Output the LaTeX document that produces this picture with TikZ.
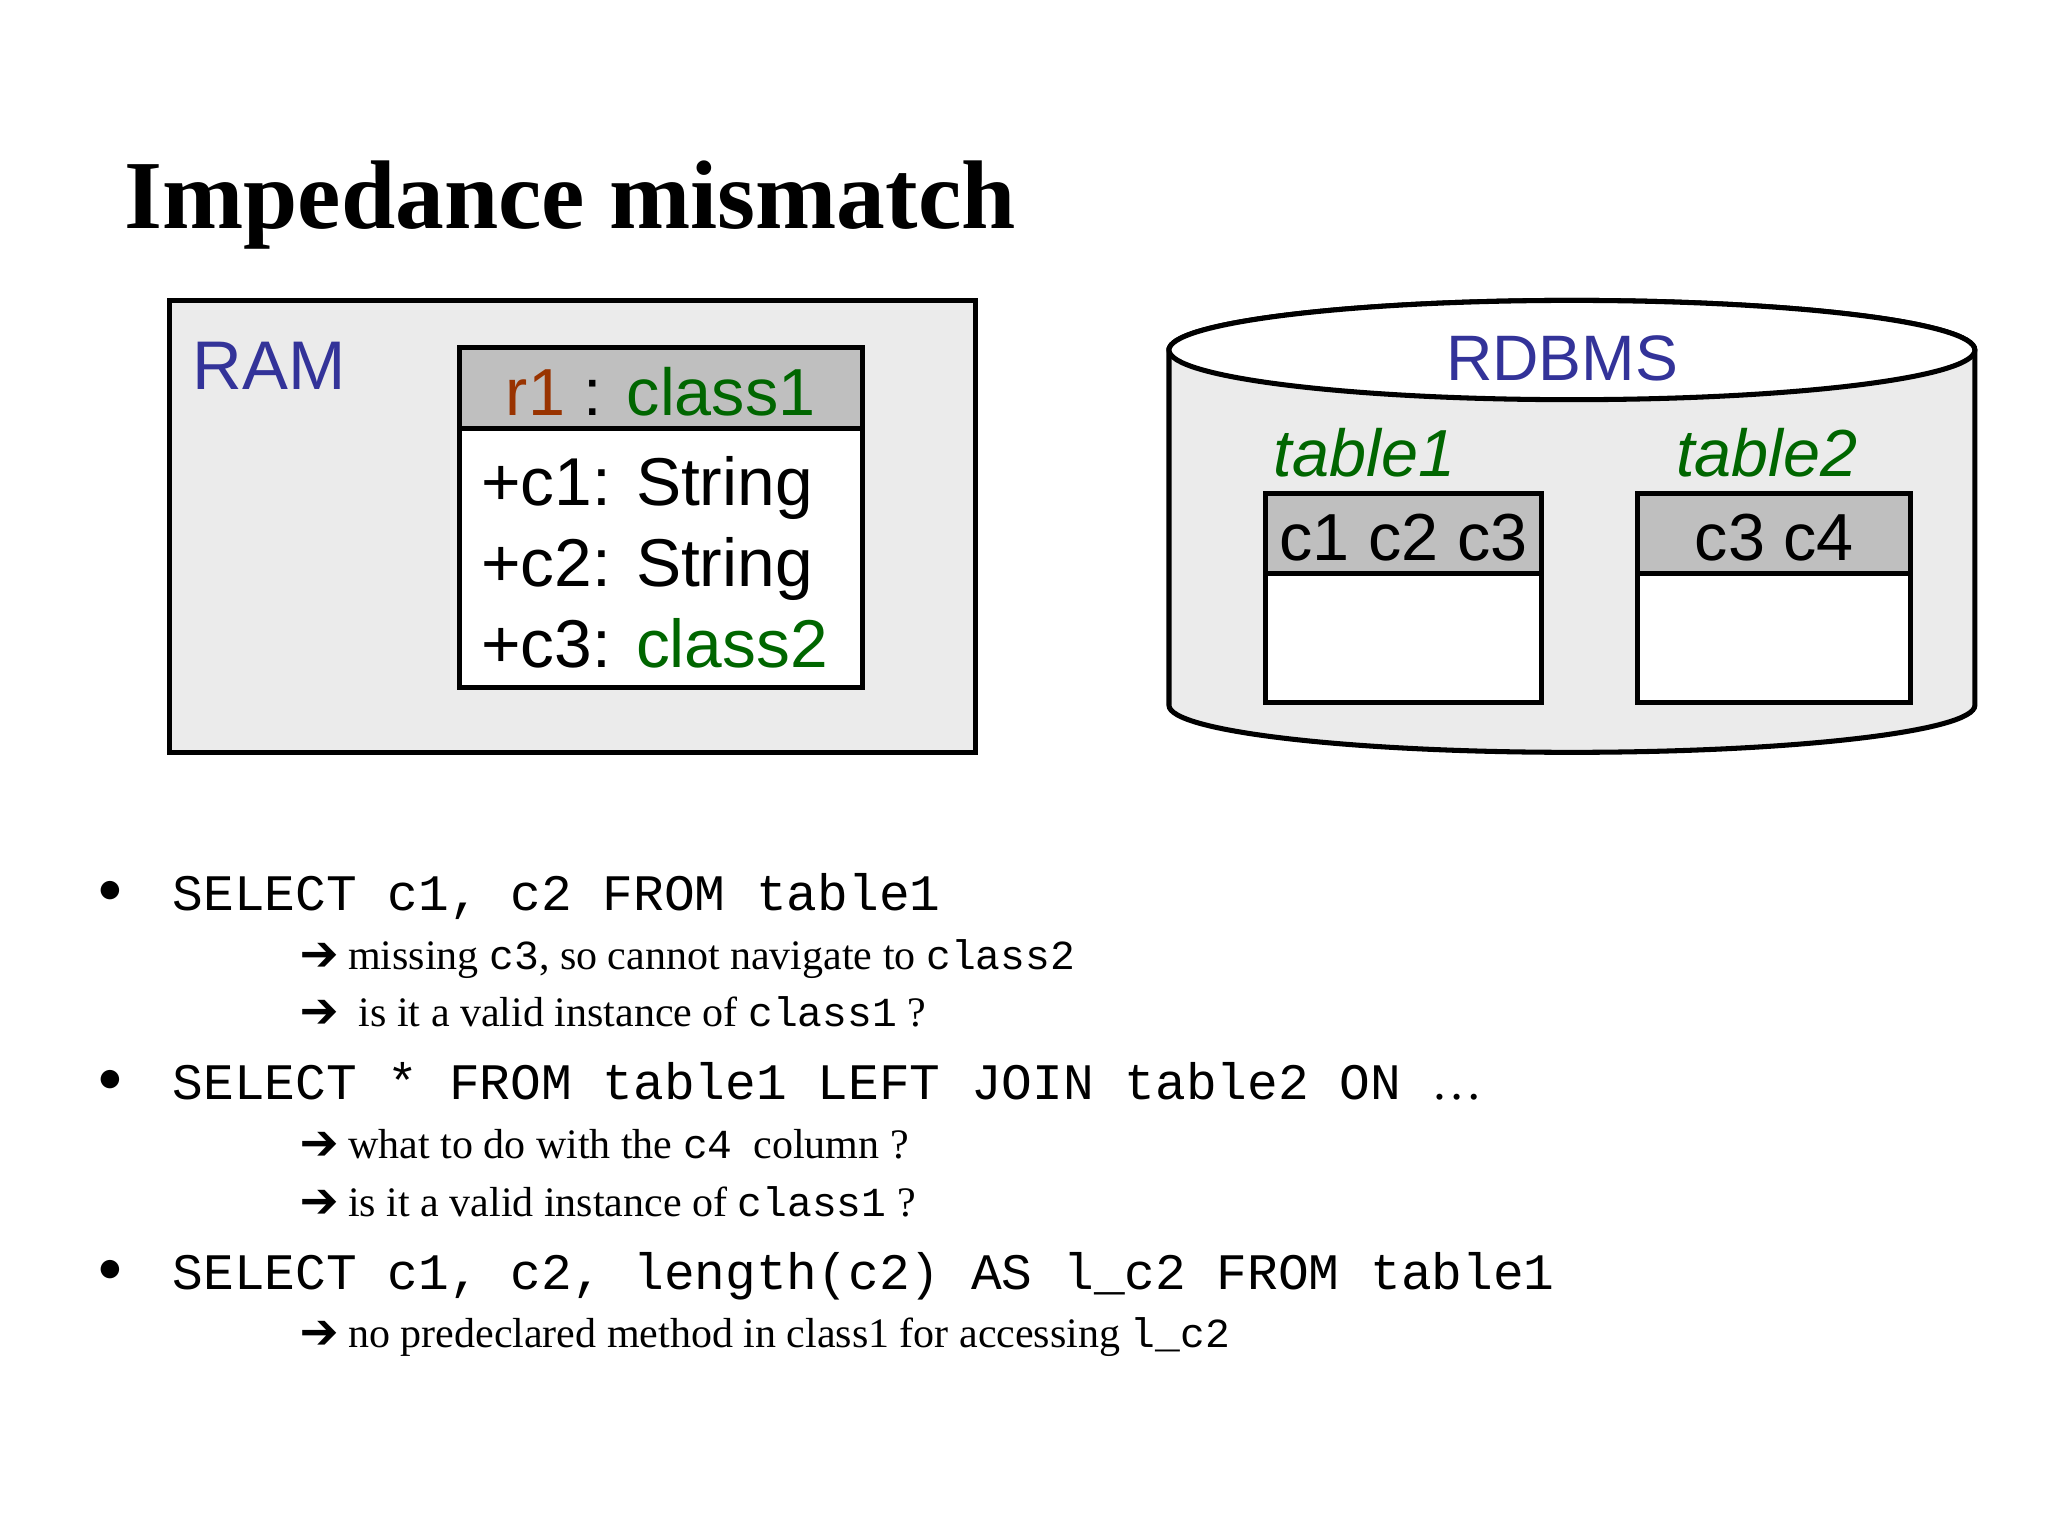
\documentclass[tikz,border=0pt]{standalone}
\usepackage{fontspec}
\usepackage{pifont}
\setmainfont{Liberation Serif}
\newfontfamily\sans{Liberation Sans}
\newfontfamily\mono{Liberation Mono}
\definecolor{rblue}{HTML}{333399}
\definecolor{rgreen}{HTML}{006600}
\definecolor{rbrown}{HTML}{993300}
\definecolor{bgray}{HTML}{EBEBEB}
\definecolor{hgray}{HTML}{BFBFBF}
\begin{document}
\begin{tikzpicture}[x=0.02cm,y=-0.02cm,
  box/.style={line width=2.2pt,draw=black},
  lbl/.style={anchor=base west,inner sep=0pt},
  big/.style={lbl,font=\sans\fontsize{30}{34}\selectfont},
  code/.style={lbl,font=\mono\fontsize{22.3}{26}\selectfont},
  sub/.style={lbl,font=\fontsize{18.3}{21}\selectfont}]
\useasboundingbox (0,0) rectangle (1568,1176);
\node[lbl,font=\bfseries\fontsize{42.5}{48}\selectfont] (title) at (95,175) {Impedance mismatch};
% RAM
\draw[box,fill=bgray] (130,230) rectangle (747,576);
\node[big,text=rblue] (ram) at (147,298) {RAM};
\draw[box,fill=white] (352,266) rectangle (660,526);
\draw[box,fill=hgray] (352,266) rectangle (660,328);
\node[big,font=\sans\fontsize{29}{34}\selectfont] (cls) at (387,318) {\textcolor{rbrown}{r1} : \textcolor{rgreen}{class1}};
\node[big,font=\sans\fontsize{29.5}{34}\selectfont] (a1) at (368,387) {+c1: String};
\node[big,font=\sans\fontsize{29.5}{34}\selectfont] (a2) at (368,449) {+c2: String};
\node[big,font=\sans\fontsize{29.5}{34}\selectfont] (a3) at (368,511) {+c3: \textcolor{rgreen}{class2}};
% Cylinder
\draw[box,fill=bgray] (895,268) -- (895,540) arc[start angle=180,end angle=0,x radius=308.5,y radius=36] -- (1512,268) arc[start angle=0,end angle=-180,x radius=308.5,y radius=38] -- cycle;
\draw[box,fill=white] (1203.5,268) ellipse[x radius=308.5,y radius=38];
\node[big,anchor=base,text=rblue,font=\sans\fontsize{28}{34}\selectfont] (rdbms) at (1196,291) {RDBMS};
\node[big,text=rgreen,font=\sans\itshape\fontsize{29}{34}\selectfont] (t1) at (975,365) {table1};
\node[big,text=rgreen,font=\sans\itshape\fontsize{29}{34}\selectfont] (t2) at (1283,365) {table2};
\draw[box,fill=white] (969,378) rectangle (1180,538);
\draw[box,fill=hgray] (969,378) rectangle (1180,439);
\node[big,anchor=base,font=\sans\fontsize{29}{34}\selectfont] (h1) at (1074.5,429) {c1 c2 c3};
\draw[box,fill=white] (1254,378) rectangle (1463,538);
\draw[box,fill=hgray] (1254,378) rectangle (1463,439);
\node[big,anchor=base,font=\sans\fontsize{29}{34}\selectfont] (h2) at (1358.5,429) {c3 c4};
% bullets
\foreach \y/\n in {697/b1,842/b2,987/b3}{\node[lbl,font=\fontsize{20}{24}\selectfont] (\n) at (75,\y-6) {$\bullet$};}
\node[code] (q1) at (132,697) {SELECT c1, c2 FROM table1};
\node[code] (q2) at (132,842) {SELECT * FROM table1 LEFT JOIN table2 ON \textrm{\dots}};
\node[code] (q3) at (132,987) {SELECT c1, c2, length(c2) AS l\_c2 FROM table1};
\newcommand{\mt}[1]{{\mono\fontsize{18}{20}\selectfont #1}}
\newcommand{\arr}{{\fontsize{18}{20}\selectfont\ding{212}}}
\node[sub] (s1) at (230,742) {\arr\ missing \mt{c3}, so cannot navigate to \mt{class2}};
\node[sub] (s2) at (230,786) {\arr\ \ is it a valid instance of \mt{class1} ?};
\node[sub] (s3) at (230,887) {\arr\ what to do with the \mt{c4} \ column ?};
\node[sub] (s4) at (230,931) {\arr\ is it a valid instance of \mt{class1} ?};
\node[sub] (s5) at (230,1032) {\arr\ no predeclared method in class1 for accessing \mt{l\_c2}};
\end{tikzpicture}
\end{document}
